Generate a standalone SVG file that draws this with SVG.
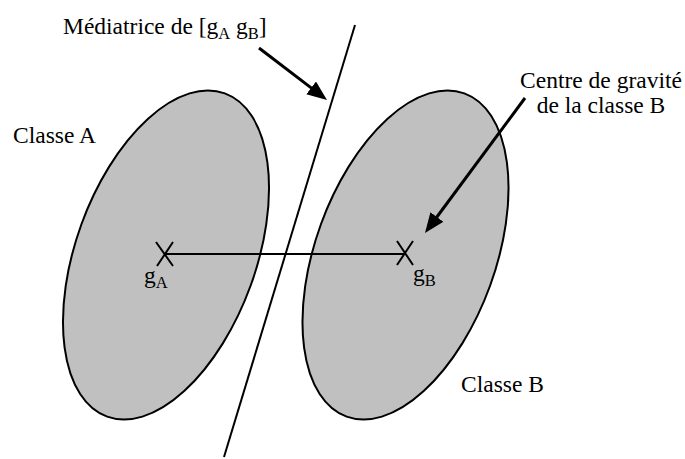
<svg xmlns="http://www.w3.org/2000/svg" width="685" height="459" viewBox="0 0 685 459">
<style>
.cls{fill:#c0c0c0;stroke:#000;stroke-width:2}
.ln{stroke:#000;stroke-width:2;fill:none}
.arr{stroke:#000;stroke-width:3;fill:none}
.t{font-family:'Liberation Serif','Times New Roman','DejaVu Serif',serif;font-size:23.5px;fill:#000}
.sub{font-size:16.5px}
</style>
<defs>
<marker id="ah" markerUnits="userSpaceOnUse" markerWidth="22" markerHeight="18" viewBox="0 0 22 18" refX="5" refY="8" orient="auto">
<path d="M0,0 L20,8 L0,16 z" fill="#000"/>
</marker>
</defs>
<rect width="685" height="459" fill="#fff"/>
<g id="classeA">
<ellipse class="cls" cx="166" cy="255" rx="90" ry="172" transform="rotate(20 166 255)"/>
<text class="t" font-family="Liberation Serif" x="13" y="143">Classe A</text>
</g>
<g id="classeB">
<ellipse class="cls" cx="405.5" cy="255" rx="90" ry="172" transform="rotate(20 405.5 255)"/>
<text class="t" font-family="Liberation Serif" x="461" y="392">Classe B</text>
</g>
<g id="gA">
<path class="ln" d="M156,242 L173,266 M173,242 L157,266"/>
<text class="t" font-family="Liberation Serif" x="144" y="283">g<tspan class="sub" dy="5">A</tspan></text>
</g>
<g id="gB">
<path class="ln" d="M397,241 L413,265 M413,241 L397,265"/>
<text class="t" font-family="Liberation Serif" x="413" y="281">g<tspan class="sub" dy="5">B</tspan></text>
</g>
<g id="mediatrice">
<line class="ln" x1="355" y1="25" x2="224" y2="457"/>
<text class="t" font-family="Liberation Serif" x="63" y="34">Médiatrice de [g<tspan class="sub" dy="5">A</tspan><tspan dy="-5"> g</tspan><tspan class="sub" dy="5">B</tspan><tspan dy="-5">]</tspan></text>
</g>
<g id="centre">
<text class="t" font-family="Liberation Serif" x="601" y="88" text-anchor="middle">Centre de gravité</text>
<text class="t" font-family="Liberation Serif" x="601" y="113" text-anchor="middle">de la classe B</text>
</g>
<g id="connectors">
<line class="ln" x1="165" y1="254" x2="405" y2="254"/>
<line class="arr" x1="259" y1="48" x2="315.1" y2="90.9" marker-end="url(#ah)"/>
<line class="arr" x1="525" y1="98" x2="433.9" y2="221" marker-end="url(#ah)"/>
</g>
</svg>
